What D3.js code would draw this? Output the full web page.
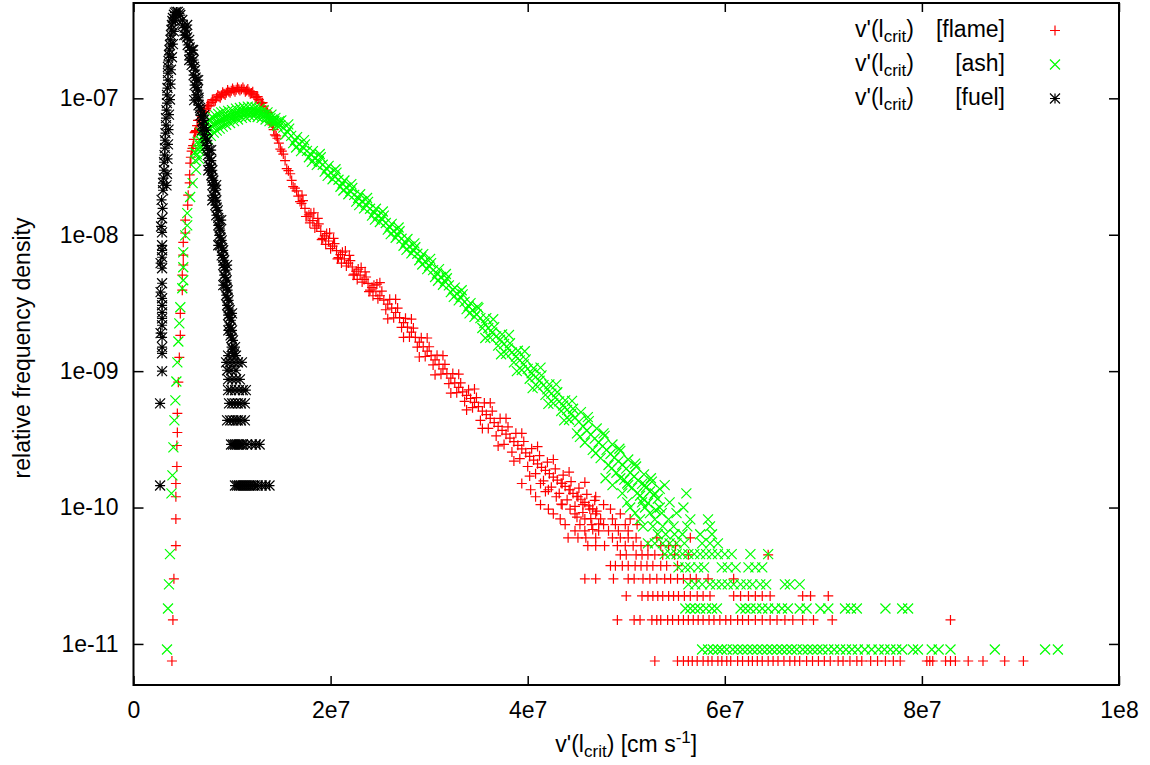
<!DOCTYPE html>
<html>
<head>
<meta charset="utf-8">
<script src="https://cdn.jsdelivr.net/npm/d3@7"></script>
<style>
  body { margin: 0; background: #fff; }
  svg { display: block; font-family: "Liberation Sans", Arial, sans-serif; }
</style>
</head>
<body>
<script>
// x values are v'(l_crit) in units of 1e6 cm/s, y values are relative frequency density
var xTicks = [0, 20, 40, 60, 80, 100];
var xTickLabels = ["0", "2e7", "4e7", "6e7", "8e7", "1e8"];
var yTicks = [1e-11, 1e-10, 1e-9, 1e-8, 1e-7];
var yTickLabels = ["1e-11", "1e-10", "1e-09", "1e-08", "1e-07"];

// ---- flame (red +) ----
var flameFlank = [[3.9,7.5e-12],[4.0,1.5e-11],[4.1,3.0e-11],[4.3,5.25e-11],[4.3,8.25e-11],[4.3,1.2e-10],[4.3,1.5e-10],
  [4.4,2.0e-10],[4.4,2.85e-10],[4.45,3.55e-10],[4.45,4.9e-10],[4.55,8.3e-10],[4.65,1.26e-9],[4.75,1.83e-9],[4.75,2.65e-9],
  [4.95,3.92e-9],[4.95,5.05e-9],[5.05,6.0e-9],[5.05,7.1e-9],[5.05,8.8e-9],[5.25,1.03e-8],[5.25,1.28e-8],[5.5,1.65e-8],
  [5.55,1.95e-8],[5.7,2.4e-8],[5.7,2.75e-8]];
var flamePeak = [[5.75,3.35e-8],[5.9,4.1e-8],[6.05,4.5e-8],[6.2,5.6e-8],[6.35,5.8e-8],[6.55,6.9e-8],[6.75,6.9e-8],[7.0,8.0e-8],
  [7.25,7.9e-8],[7.5,8.9e-8],[7.75,8.8e-8],[8.0,9.8e-8],[8.3,9.6e-8],[8.55,1.06e-7],[8.8,1.01e-7],[9.05,1.11e-7],[9.3,1.06e-7],
  [9.55,1.15e-7],[9.8,1.1e-7],[10.05,1.18e-7],[10.3,1.12e-7],[10.55,1.2e-7],[10.8,1.14e-7],[11.1,1.2e-7],[11.35,1.12e-7],
  [11.6,1.17e-7],[11.85,1.08e-7],[12.1,1.12e-7],[12.35,1.01e-7],[12.6,1.03e-7],[12.85,9.3e-8],[13.1,9.3e-8],[13.35,8.2e-8],
  [13.6,7.9e-8],[13.85,6.7e-8],[14.1,6.4e-8],[14.35,5.4e-8],[14.6,5.1e-8],[14.9,4.25e-8],[15.2,3.9e-8],[15.55,3.05e-8],
  [15.9,2.8e-8],[16.2,2.25e-8],[16.55,2.1e-8],[16.9,1.75e-8]];
var flamePeakMid = [[5.82,3.7e-8],[5.98,4.3e-8],[6.12,5.0e-8],[6.28,5.7e-8],[6.45,6.3e-8],[6.65,6.9e-8],[6.88,7.45e-8],
  [7.12,7.95e-8],[7.38,8.4e-8],[7.62,8.85e-8],[7.88,9.3e-8],[8.15,9.7e-8],[8.42,1.01e-7],[8.68,1.03e-7],[8.92,1.055e-7],
  [9.18,1.08e-7],[9.42,1.1e-7],[9.68,1.12e-7],[9.92,1.135e-7],[10.18,1.145e-7],[10.42,1.155e-7],[10.68,1.165e-7],
  [10.95,1.165e-7],[11.22,1.16e-7],[11.48,1.14e-7],[11.72,1.12e-7],[11.98,1.095e-7],[12.22,1.06e-7],[12.48,1.02e-7],
  [12.72,9.8e-8],[12.98,9.2e-8],[13.22,8.75e-8],[13.48,8.1e-8],[13.72,7.35e-8],[13.98,6.6e-8],[14.22,5.9e-8],[14.48,5.3e-8],
  [14.75,4.7e-8],[15.05,4.1e-8],[15.38,3.5e-8],[15.72,2.95e-8],[16.05,2.5e-8],[16.38,2.2e-8],[16.72,1.92e-8],[17.05,1.7e-8]];
var flameDecline = [[17.2,1.78e-8],[17.6,1.36e-8],[18.0,1.44e-8],[18.4,1.12e-8],[18.8,1.2e-8],[19.2,9.4e-9],[19.6,1.02e-8],
  [20.0,7.9e-9],[20.4,8.6e-9],[20.8,6.8e-9],[21.2,7.45e-9],[21.6,5.9e-9],[22.0,6.45e-9],[22.4,5.15e-9],[22.8,5.6e-9],
  [23.2,4.5e-9],[23.6,4.9e-9],[24.0,3.93e-9],[24.4,4.27e-9],[24.8,3.4e-9],[25.2,3.86e-9],[25.6,2.82e-9],[26.0,3.36e-9],
  [26.4,2.46e-9],[26.8,2.9e-9],[27.2,2.09e-9],[27.6,2.44e-9],[28.0,1.78e-9],[28.4,2.07e-9],[28.8,1.5e-9],[29.2,1.76e-9],
  [29.6,1.28e-9],[30.0,1.51e-9],[30.4,1.11e-9],[30.8,1.31e-9],[31.2,9.5e-10],[31.6,1.12e-9],[32.0,8.1e-10],[32.4,9.6e-10],
  [32.8,6.95e-10],[33.2,8.2e-10],[33.6,6.0e-10],[34.0,7.3e-10],[34.4,5.4e-10],[34.8,6.4e-10],[35.2,4.35e-10],[35.6,5.85e-10],
  [36.0,3.8e-10],[36.4,5.1e-10],[36.8,3.35e-10],[37.2,4.5e-10],[37.6,2.9e-10],[38.0,3.9e-10],[38.4,2.55e-10],[38.8,3.5e-10],
  [39.2,2.28e-10],[39.6,3.05e-10],[40.0,2.0e-10],[40.4,2.7e-10],[40.8,1.77e-10],[41.2,2.4e-10],[41.6,1.57e-10],[42.0,2.15e-10],
  [42.4,1.41e-10],[42.8,1.92e-10],[43.2,1.27e-10],[43.6,1.73e-10],[44.0,1.14e-10],[44.4,1.55e-10],[44.8,1.02e-10],
  [45.2,1.39e-10],[45.6,9.2e-11],[46.0,1.25e-10],[46.4,8.3e-11],[46.8,1.13e-10],[47.2,7.6e-11]];
var flameDeclineMid = [[17.4,1.56e-8],[17.8,1.4e-8],[18.2,1.27e-8],[18.6,1.16e-8],[19.0,1.06e-8],[19.4,9.8e-9],[19.8,9.0e-9],
  [20.2,8.25e-9],[20.6,7.65e-9],[21.0,7.15e-9],[21.4,6.65e-9],[21.8,6.2e-9],[22.2,5.8e-9],[22.6,5.4e-9],[23.0,5.05e-9],
  [23.4,4.7e-9],[23.8,4.4e-9],[24.2,4.1e-9],[24.6,3.82e-9],[25.0,3.57e-9],[25.4,3.32e-9],[25.8,3.1e-9],[26.2,2.9e-9],
  [26.6,2.69e-9],[27.0,2.47e-9],[27.4,2.27e-9],[27.8,2.1e-9],[28.2,1.93e-9],[28.6,1.77e-9],[29.0,1.63e-9],[29.4,1.51e-9],
  [29.8,1.4e-9],[30.2,1.3e-9],[30.6,1.21e-9],[31.0,1.12e-9],[31.4,1.04e-9],[31.8,9.6e-10],[32.2,8.9e-10],[32.6,8.2e-10],
  [33.0,7.6e-10],[33.4,7.05e-10],[33.8,6.65e-10],[34.2,6.3e-10],[34.6,5.9e-10],[35.0,5.5e-10],[35.4,5.1e-10],[35.8,4.8e-10],
  [36.2,4.5e-10],[36.6,4.2e-10],[37.0,3.93e-10],[37.4,3.68e-10],[37.8,3.45e-10],[38.2,3.23e-10],[38.6,3.04e-10],
  [39.0,2.86e-10],[39.4,2.69e-10],[39.8,2.52e-10],[40.2,2.37e-10],[40.6,2.23e-10],[41.0,2.09e-10],[41.4,1.97e-10],
  [41.8,1.87e-10],[42.2,1.77e-10],[42.6,1.67e-10],[43.0,1.59e-10],[43.4,1.51e-10],[43.8,1.43e-10],[44.2,1.35e-10],
  [44.6,1.27e-10],[45.0,1.21e-10],[45.4,1.15e-10],[45.8,1.09e-10],[46.2,1.03e-10],[46.6,9.8e-11],[47.0,9.4e-11]];
var flameDeclineOuter = [[17.1,1.95e-8],[17.5,1.36e-8],[17.9,1.22e-8],[18.3,1.45e-8],[18.7,1.32e-8],[19.1,9.2e-9],
  [19.5,8.5e-9],[19.9,1.03e-8],[20.3,9.4e-9],[20.7,6.65e-9],[21.1,6.2e-9],[21.5,7.6e-9],[21.9,7.05e-9],[22.3,5.05e-9],
  [22.7,4.7e-9],[23.1,5.75e-9],[23.5,5.35e-9],[23.9,3.83e-9],[24.3,3.57e-9],[24.7,4.35e-9],
  [25.0,4.45e-9],[25.8,2.42e-9],[26.6,3.36e-9],[27.4,1.77e-9],[28.2,2.41e-9],[29.0,1.27e-9],
  [29.8,1.75e-9],[30.6,9.4e-10],[31.4,1.3e-9],[32.2,6.9e-10],[33.0,9.5e-10],[33.8,5.2e-10],[34.6,7.4e-10],[35.4,3.8e-10],
  [36.2,5.85e-10],[37.0,2.83e-10],[37.8,4.5e-10],[38.6,2.19e-10],[39.4,3.5e-10],[40.2,1.7e-10],[41.0,2.8e-10],[41.8,1.31e-10],
  [42.6,2.25e-10],[43.4,1.06e-10],[44.2,1.82e-10],[45.0,8.5e-11],[45.8,1.53e-10],[46.6,6.9e-11]];
// low-count rows: [density, [v, ...]]
var flameLevels = [
  [7.5e-12,[52.9,55.2,55.8,56.3,56.7,57.2,57.8,58.3,58.7,59.3,59.7,60.2,60.6,61.3,61.8,62.4,62.8,63.3,63.8,64.4,64.9,65.4,66.0,
    66.6,67.1,67.6,68.3,68.9,69.5,70.1,70.7,71.5,72.0,72.7,73.4,73.9,74.8,75.5,76.3,77.1,77.8,80.5,80.8,81.1,82.4,82.9,83.4,
    84.7,86.2,88.4,90.3]],
  [1.5e-11,[49.1,50.8,51.4,52.6,53.1,53.5,54.2,54.7,55.3,55.8,56.3,56.8,57.3,57.8,58.4,58.9,59.5,60.1,60.6,61.3,61.8,62.4,
    63.1,63.8,64.6,65.3,66.1,66.9,67.9,69.0,70.9,82.9]],
  [2.25e-11,[50.0,51.6,52.2,52.7,53.2,53.7,54.3,54.8,55.3,55.9,56.5,57.2,57.8,58.5,60.9,61.6,62.4,63.1,63.8,64.6,67.9,68.7,70.5]],
  [3.0e-11,[45.8,46.9,48.7,50.2,50.8,51.7,52.4,53.1,53.9,54.5,55.2,55.8,56.5,57.1,58.3,60.9]],
  [3.75e-11,[48.4,48.9,49.6,50.2,50.9,51.5,52.1,52.7,53.5,54.1,55.2]],
  [4.5e-11,[49.4,50.0,51.0,51.6,52.2,52.9,53.7,54.9,56.3,64.4]],
  [5.25e-11,[46.1,46.9,47.8,49.1,49.9,50.7,51.5,52.2,53.5,54.3,55.0]],
  [6.0e-11,[44.1,45.1,45.9,46.9,48.6,49.4,50.2,51.0,53.1,56.5]],
  [6.75e-11,[44.8,45.8,47.2,48.2,49.2,50.2]],
  [7.5e-11,[43.8,45.3,46.5,47.7,48.9,49.9,51.1]],
  [8.25e-11,[43.3,45.8,47.4,48.6,50.4]],
  [9.0e-11,[42.6,44.8,46.9,49.4]],
  [9.75e-11,[42.1,44.3,46.3,48.4]],
  [1.05e-10,[41.3,43.5,45.6,47.7]],
  [1.2e-10,[40.8,42.9,45.1,46.9]],
  [1.35e-10,[40.3,42.1,44.3]],
  [1.5e-10,[39.4,41.3,43.5]]
];

// ---- ash (green x) ----
var ashFlank = [[3.4,9.1e-12],[3.5,1.82e-11],[3.6,2.73e-11],[3.7,4.55e-11],[3.85,1.27e-10],[3.95,1.72e-10],[4.05,2.76e-10],
  [4.15,4.35e-10],[4.25,6.1e-10],[4.35,8.4e-10],[4.45,1.16e-9],[4.55,1.65e-9],[4.65,2.24e-9],[4.75,2.94e-9],[4.95,4.05e-9],
  [5.05,4.64e-9],[5.05,5.78e-9],[5.05,7.43e-9],[5.25,9.9e-9],[5.45,1.17e-8],[5.45,1.44e-8],[5.75,1.89e-8],[6.0,2.39e-8]];
var ashPeak = [[6.2,4.0e-8],[6.35,3.0e-8],[6.5,4.8e-8],[6.65,3.6e-8],[6.8,5.6e-8],[6.95,4.2e-8],[7.1,6.2e-8],[7.25,4.7e-8],
  [7.4,6.6e-8],[7.55,5.0e-8],[7.7,7.0e-8],[7.85,5.3e-8],[8.0,7.3e-8],[8.15,5.6e-8],[8.3,7.5e-8],[8.45,5.8e-8],[8.6,7.7e-8],
  [8.75,6.0e-8],[8.9,7.9e-8],[9.05,6.2e-8],[9.2,8.0e-8],[9.4,6.4e-8],[9.6,8.1e-8],[9.8,6.6e-8],[10.0,8.2e-8],[10.2,6.8e-8],
  [10.4,8.4e-8],[10.6,7.0e-8],[10.8,8.5e-8],[11.0,7.2e-8],[11.2,8.6e-8],[11.4,7.3e-8],[11.6,8.7e-8],[11.8,7.4e-8],[12.0,8.7e-8],
  [12.2,7.4e-8],[12.4,8.6e-8],[12.6,7.3e-8],[12.8,8.4e-8],[13.0,7.2e-8],[13.2,8.2e-8],[13.4,7.0e-8],[13.6,7.9e-8],[13.8,6.8e-8],
  [14.0,7.6e-8],[14.2,6.6e-8],[14.4,7.2e-8],[14.6,6.3e-8],[14.8,6.8e-8]];
var ashPeakMid = [[6.28,3.5e-8],[6.42,3.9e-8],[6.58,4.2e-8],[6.72,4.5e-8],[6.88,4.85e-8],[7.02,5.1e-8],[7.18,5.4e-8],
  [7.32,5.6e-8],[7.48,5.8e-8],[7.62,5.95e-8],[7.78,6.1e-8],[7.92,6.25e-8],[8.08,6.4e-8],[8.22,6.5e-8],[8.38,6.6e-8],
  [8.52,6.7e-8],[8.68,6.8e-8],[8.82,6.85e-8],[8.98,6.95e-8],[9.12,7.05e-8],[9.3,7.15e-8],[9.5,7.25e-8],[9.7,7.3e-8],
  [9.9,7.4e-8],[10.1,7.45e-8],[10.3,7.55e-8],[10.5,7.65e-8],[10.7,7.7e-8],[10.9,7.8e-8],[11.1,7.85e-8],[11.3,7.9e-8],
  [11.5,7.95e-8],[11.7,8.0e-8],[11.9,8.0e-8],[12.1,8.0e-8],[12.3,7.95e-8],[12.5,7.9e-8],[12.7,7.85e-8],[12.9,7.75e-8],
  [13.1,7.65e-8],[13.3,7.55e-8],[13.5,7.4e-8],[13.7,7.3e-8],[13.9,7.15e-8],[14.1,7.0e-8],[14.3,6.85e-8],[14.5,6.7e-8],
  [14.7,6.5e-8],[14.9,6.35e-8]];
var ashDecline = [[15.0,6.9e-8],[15.4,5.4e-8],[15.8,6.0e-8],[16.2,4.7e-8],[16.6,5.2e-8],[17.0,4.1e-8],[17.4,4.6e-8],
  [17.8,3.7e-8],[18.2,4.1e-8],[18.6,3.25e-8],[19.0,3.7e-8],[19.4,2.9e-8],[19.8,3.2e-8],[20.2,2.55e-8],[20.6,2.85e-8],
  [21.0,2.25e-8],[21.4,2.5e-8],[21.8,1.98e-8],[22.2,2.2e-8],[22.6,1.75e-8],[23.0,1.98e-8],[23.4,1.56e-8],[23.8,1.74e-8],
  [24.2,1.38e-8],[24.6,1.55e-8],[25.0,1.24e-8],[25.4,1.38e-8],[25.8,1.09e-8],[26.2,1.2e-8],[26.6,9.5e-9],[27.0,1.06e-8],
  [27.4,8.3e-9],[27.8,9.3e-9],[28.2,7.3e-9],[28.6,8.1e-9],[29.0,6.5e-9],[29.4,7.2e-9],[29.8,5.6e-9],[30.2,6.2e-9],[30.6,4.9e-9],
  [31.0,5.6e-9],[31.4,4.3e-9],[31.8,4.8e-9],[32.2,3.8e-9],[32.6,4.1e-9],[33.0,3.3e-9],[33.4,3.65e-9],[33.8,2.85e-9],
  [34.2,3.15e-9],[34.6,2.5e-9],[35.0,2.9e-9],[35.4,2.07e-9],[35.8,2.45e-9],[36.2,1.76e-9],[36.6,2.1e-9],[37.0,1.54e-9],
  [37.4,1.86e-9],[37.8,1.34e-9],[38.2,1.6e-9],[38.6,1.16e-9],[39.0,1.41e-9],[39.4,1.02e-9],[39.8,1.22e-9],[40.2,8.8e-10],
  [40.6,1.05e-9],[41.0,7.7e-10],[41.4,9.3e-10],[41.8,6.7e-10],[42.2,8.0e-10],[42.6,5.8e-10],[43.0,7.0e-10],[43.4,5.1e-10],
  [43.8,6.1e-10],[44.2,4.4e-10],[44.6,5.3e-10],[45.0,3.5e-10],[45.4,5.0e-10],[45.8,3.0e-10],[46.2,4.3e-10],[46.6,2.65e-10],
  [47.0,3.8e-10],[47.4,2.3e-10],[47.8,3.35e-10],[48.2,2.05e-10],[48.6,2.9e-10],[49.0,1.8e-10],[49.4,2.6e-10],[49.8,1.6e-10],
  [50.2,2.25e-10],[50.6,1.4e-10],[51.0,2.0e-10],[51.4,1.22e-10],[51.8,1.75e-10],[52.2,1.08e-10],[52.6,1.55e-10],
  [53.0,9.6e-11],[53.4,1.37e-10]];
var ashDeclineMid = [[15.2,6.1e-8],[15.6,5.7e-8],[16.0,5.3e-8],[16.4,4.93e-8],[16.8,4.62e-8],[17.2,4.37e-8],[17.6,4.12e-8],
  [18.0,3.87e-8],[18.4,3.65e-8],[18.8,3.46e-8],[19.2,3.26e-8],[19.6,3.05e-8],[20.0,2.85e-8],[20.4,2.67e-8],[20.8,2.53e-8],
  [21.2,2.38e-8],[21.6,2.22e-8],[22.0,2.08e-8],[22.4,1.96e-8],[22.8,1.86e-8],[23.2,1.76e-8],[23.6,1.65e-8],[24.0,1.55e-8],
  [24.4,1.46e-8],[24.8,1.38e-8],[25.2,1.31e-8],[25.6,1.22e-8],[26.0,1.14e-8],[26.4,1.06e-8],[26.8,1.0e-8],[27.2,9.35e-9],
  [27.6,8.75e-9],[28.0,8.2e-9],[28.4,7.65e-9],[28.8,7.25e-9],[29.2,6.85e-9],[29.6,6.35e-9],[30.0,5.9e-9],[30.4,5.5e-9],
  [30.8,5.2e-9],[31.2,4.9e-9],[31.6,4.55e-9],[32.0,4.25e-9],[32.4,3.95e-9],[32.8,3.7e-9],[33.2,3.47e-9],[33.6,3.22e-9],
  [34.0,3.0e-9],[34.4,2.8e-9],[34.8,2.62e-9],[35.2,2.45e-9],[35.6,2.25e-9],[36.0,2.07e-9],[36.4,1.92e-9],[36.8,1.8e-9],
  [37.2,1.7e-9],[37.6,1.58e-9],[38.0,1.47e-9],[38.4,1.37e-9],[38.8,1.28e-9],[39.2,1.2e-9],[39.6,1.12e-9],[40.0,1.04e-9],
  [40.4,9.65e-10],[40.8,9.05e-10],[41.2,8.5e-10],[41.6,7.9e-10],[42.0,7.35e-10],[42.4,6.85e-10],[42.8,6.4e-10],[43.2,6.0e-10],
  [43.6,5.6e-10],[44.0,5.2e-10],[44.4,4.85e-10],[44.8,4.55e-10],[45.2,4.25e-10],[45.6,3.95e-10],[46.0,3.67e-10],
  [46.4,3.42e-10],[46.8,3.2e-10],[47.2,3.0e-10],[47.6,2.82e-10],[48.0,2.65e-10],[48.4,2.47e-10],[48.8,2.32e-10],
  [49.2,2.18e-10],[49.6,2.06e-10],[50.0,1.93e-10],[50.4,1.8e-10],[50.8,1.69e-10],[51.2,1.58e-10],[51.6,1.49e-10],
  [52.0,1.4e-10],[52.4,1.31e-10],[52.8,1.23e-10],[53.2,1.16e-10]];
var ashDeclineOuter = [[15.7,6.45e-8],[16.5,4.36e-8],[17.3,4.94e-8],[18.1,3.42e-8],[18.9,3.91e-8],[19.7,2.7e-8],
  [20.5,3.02e-8],[21.3,2.11e-8],[22.1,2.35e-8],[22.9,1.65e-8],[23.7,1.86e-8],[24.5,1.29e-8],[25.3,1.48e-8],[26.1,1.01e-8],
  [26.9,1.13e-8],[27.7,7.75e-9],[28.5,8.65e-9],[29.3,6.05e-9],[30.1,6.65e-9],[30.9,4.6e-9],[31.7,5.15e-9],[32.5,3.5e-9],
  [33.3,3.92e-9],[34.1,2.65e-9],[34.9,2.96e-9],[35.7,1.75e-9],[36.5,2.4e-9],[37.3,1.33e-9],[38.1,1.84e-9],[38.9,1.0e-9],
  [39.7,1.4e-9],[40.5,7.5e-10],[41.3,1.06e-9],[42.1,5.75e-10],[42.9,8.0e-10],[43.7,4.35e-10],[44.5,6.05e-10],[45.3,3.3e-10],
  [46.1,4.6e-10],[46.9,2.5e-10],[47.7,3.5e-10],[48.5,1.93e-10],[49.3,2.7e-10],[50.1,1.5e-10],[50.9,2.1e-10],[51.7,1.16e-10],
  [52.5,1.64e-10]];
var ashLevels = [
  [9.1e-12,[57.7,58.3,58.8,59.3,59.7,60.2,60.8,61.3,61.8,62.3,62.8,63.3,63.8,64.3,64.8,65.3,65.8,66.3,66.8,67.3,67.9,68.4,68.9,
    69.4,69.9,70.5,71.1,71.7,72.3,72.9,73.5,74.2,74.9,75.6,76.2,76.8,77.4,78.0,79.1,79.6,81.0,81.7,82.9,87.4,92.5,93.8]],
  [1.82e-11,[56.0,56.5,57.0,57.5,58.1,58.7,59.2,61.6,62.1,62.6,63.2,63.8,64.4,65.1,65.8,66.4,67.6,68.3,69.7,70.5,72.2,72.8,
    73.4,76.3,78.0,78.6]],
  [2.73e-11,[56.3,57.0,57.7,58.5,59.1,59.7,60.3,60.9,61.6,62.2,62.8,63.6,64.2,66.1,66.6,67.6]],
  [3.64e-11,[55.3,56.0,56.5,57.3,57.9,59.7,60.3,61.1,62.4,63.1,63.8]],
  [4.55e-11,[53.9,54.5,55.1,55.7,56.3,56.9,57.5,58.1,58.7,59.3,60.0,60.7,62.6,64.4]],
  [5.46e-11,[52.2,52.9,53.7,54.4,55.1,55.9,57.7,58.5,59.3]],
  [6.37e-11,[53.2,54.0,54.9,55.7,57.5,58.7]],
  [7.28e-11,[51.7,52.7,53.7,54.8,56.2,58.5]],
  [8.19e-11,[51.4,52.9,54.3,56.5,58.3]],
  [9.1e-11,[50.9,52.4,53.6,55.1]],
  [1.0e-10,[50.4,51.9,53.4,55.8]],
  [1.09e-10,[50.1,51.6,54.4]],
  [1.27e-10,[49.6,51.1,52.9,56.1]],
  [1.46e-10,[48.6,50.2,51.9,53.9]],
  [1.64e-10,[47.9,49.4]]
];

// ---- fuel (black *) ----
var fuelFlank = [[2.7,1.45e-10],[2.7,5.8e-10],[2.9,1.0e-9],[2.9,1.35e-9],[2.9,1.5e-9],[2.9,1.77e-9],[2.9,2.17e-9],[2.9,2.44e-9],
  [2.9,2.7e-9],[2.9,3.04e-9],[2.9,3.42e-9],[2.9,4.41e-9],[2.9,5.68e-9],[2.9,6.84e-9],[2.9,7.69e-9],[2.9,8.37e-9],[2.9,1.04e-8],
  [2.9,1.32e-8],[2.95,1.56e-8],[3.0,2.12e-8],[3.0,2.39e-8],[3.05,2.6e-8],[3.1,2.97e-8],[3.1,3.4e-8],[3.15,3.83e-8],[3.2,4.32e-8],
  [3.2,4.93e-8],[3.25,5.56e-8],[3.3,6.37e-8],[3.3,7.16e-8],[3.35,8.2e-8],[3.4,9.23e-8],[3.4,1.06e-7],[3.45,1.19e-7],[3.5,1.36e-7],
  [3.5,1.53e-7],[3.5,1.7e-7],[3.55,1.88e-7],[3.6,2.08e-7],[3.65,2.26e-7],[3.7,2.46e-7],[3.75,2.68e-7],[3.8,2.91e-7],
  [3.85,3.17e-7],[3.9,3.45e-7],[3.95,3.69e-7],[4.0,3.88e-7],[4.1,4.1e-7]];
var fuelFlankMid = [[2.75,1.9e-9],[2.75,3.8e-9],[2.75,6.2e-9],[2.8,1.15e-8],[2.85,1.8e-8],
  [3.35,2.3e-8],[3.4,2.8e-8],[3.45,3.6e-8],[3.5,4.6e-8],[3.55,5.9e-8],[3.6,7.6e-8],[3.7,9.8e-8],
  [3.75,1.27e-7],[3.8,1.62e-7],[3.9,2.0e-7],[4.0,2.5e-7],[4.1,3.1e-7],[4.25,3.7e-7]];
var fuelPeak = [[4.2,4.25e-7],[4.35,4.3e-7],[4.5,4.3e-7],[4.65,4.2e-7],[4.75,4.08e-7],[4.95,3.75e-7],[5.0,3.45e-7],[5.35,3.17e-7],
  [5.3,2.91e-7],[5.65,2.68e-7],[5.5,2.46e-7],[5.9,2.26e-7],[5.7,2.08e-7],[6.1,1.91e-7],[5.9,1.76e-7],[6.25,1.61e-7],[6.1,1.48e-7],
  [6.4,1.36e-7],[6.2,1.25e-7],[6.5,1.15e-7],[6.35,1.06e-7],[6.6,9.7e-8],[6.6,8.9e-8],[6.8,8.2e-8],[6.8,7.5e-8],[7.1,6.9e-8],
  [7.0,6.4e-8],[7.4,5.85e-8],[7.2,5.4e-8],[7.5,4.93e-8],[7.4,4.5e-8],[7.7,4.17e-8],[7.55,3.83e-8],[7.9,3.5e-8],[7.7,3.23e-8],
  [8.0,2.97e-8],[7.9,2.73e-8],[8.1,2.5e-8],[8.0,2.31e-8],[8.3,2.12e-8],[8.1,1.95e-8],[8.4,1.79e-8],[8.3,1.65e-8],[8.55,1.51e-8],
  [8.4,1.39e-8],[8.7,1.28e-8],[8.6,1.17e-8],[8.8,1.08e-8],[8.7,9.9e-9],[8.95,9.1e-9],[8.8,8.37e-9],[9.1,7.69e-9],[8.95,7.06e-9],
  [9.2,6.5e-9],[9.1,5.98e-9],[9.35,5.5e-9],[9.2,5.05e-9],[9.45,4.64e-9],[9.3,4.27e-9],[9.55,3.92e-9],[9.4,3.6e-9],[9.65,3.3e-9],
  [9.5,3.04e-9],[9.75,2.8e-9],[9.6,2.57e-9],[9.9,2.36e-9],[9.7,2.17e-9],[10.0,1.99e-9],[9.85,1.83e-9],[10.1,1.68e-9],
  [9.95,1.5e-9],[10.2,1.35e-9]];
var fuelPeakMid = [[5.2,3.3e-7],[5.45,2.8e-7],[5.7,2.36e-7],[5.95,1.98e-7],[6.15,1.7e-7],[6.3,1.42e-7],[6.45,1.2e-7],
  [6.6,1.01e-7],[6.75,8.5e-8],[6.95,7.2e-8],[7.15,6.1e-8],[7.3,5.1e-8],[7.5,4.3e-8],[7.7,3.65e-8],[7.85,3.1e-8],[8.0,2.6e-8],
  [8.2,2.2e-8],[8.3,1.87e-8],[8.45,1.58e-8],[8.6,1.33e-8],[8.75,1.12e-8],[8.85,9.5e-9],[9.0,8.0e-9],[9.1,6.8e-9],
  [9.25,5.75e-9],[9.35,4.85e-9],[9.45,4.1e-9],[9.55,3.45e-9],[9.65,2.9e-9],[9.75,2.47e-9],[9.85,2.08e-9],[9.95,1.75e-9],
  [10.05,1.45e-9]];
var fuelPeakOuter = [[5.45,3.45e-7],[5.15,2.91e-7],[6.05,2.26e-7],[5.66,1.91e-7],[6.56,1.36e-7],[6.16,9.7e-8],[7.17,7.54e-8],
  [6.97,5.85e-8],[7.88,4.17e-8],[7.59,2.97e-8],[8.39,2.31e-8],[7.99,1.79e-8],[8.9,1.28e-8],[8.6,8.37e-9],[9.5,5.98e-9],
  [9.11,4.27e-9],[10.0,2.65e-9],[9.62,1.99e-9],[10.3,1.5e-9]];
var fuelLevels = [
  [1.45e-10,[10.3,10.5,10.7,10.9,11.1,11.3,11.5,11.7,11.9,12.1,12.3,12.6,13.0,13.4,13.8]],
  [2.9e-10,[9.9,10.1,10.3,10.5,10.7,10.9,11.1,11.5,12.0,12.4,12.8]],
  [4.35e-10,[9.5,9.8,10.1,10.4,10.6,10.9,11.3]],
  [5.8e-10,[9.7,10.0,10.3,10.6,10.9,11.3]],
  [7.25e-10,[9.6,9.9,10.3,10.7,11.1,11.4]],
  [8.7e-10,[9.6,10.0,10.4,10.8]],
  [1.015e-9,[9.5,9.9,10.4]],
  [1.16e-9,[9.4,9.8,10.2,10.6,11.0]],
  [1.3e-9,[9.6,10.1,10.4]]
];

function gather(parts, levels) {
  var pts = [];
  parts.forEach(function(p) {
    p.forEach(function(d) { pts.push({ v: d[0], f: d[1] }); });
  });
  levels.forEach(function(row) {
    row[1].forEach(function(v) { pts.push({ v: v, f: row[0] }); });
  });
  return pts;
}

var series = [
  { name: "flame", symbol: "+", color: "#ff0000",
    pts: gather([flameFlank, flamePeak, flamePeakMid, flameDecline, flameDeclineMid, flameDeclineOuter], flameLevels) },
  { name: "ash", symbol: "x", color: "#00ff00",
    pts: gather([ashFlank, ashPeak, ashPeakMid, ashDecline, ashDeclineMid, ashDeclineOuter], ashLevels) },
  { name: "fuel", symbol: "*", color: "#000000",
    pts: gather([fuelFlank, fuelFlankMid, fuelPeak, fuelPeakMid, fuelPeakOuter], fuelLevels) }
];

var svgWidth = 1150;
var svgHeight = 765;
var margin = { top: 3, right: 31, bottom: 80, left: 133.5 };
var width = svgWidth - margin.left - margin.right;
var height = svgHeight - margin.top - margin.bottom;

var svg = d3.select("body").append("svg")
  .attr("width", svgWidth)
  .attr("height", svgHeight);

var chart = svg.append("g")
  .attr("transform", `translate(${margin.left}, ${margin.top})`);

var xScale = d3.scaleLinear().domain([0, 100]).range([0, width]);
var yScale = d3.scaleLog().domain([5e-12, 5e-7]).range([height, 0]);

// symbols like gnuplot point types 1, 2, 3
function symbolPath(type, x, y) {
  var s = 5;
  var p = "";
  if (type !== "x") p += `M${x - s},${y}h${2 * s}M${x},${y - s}v${2 * s}`;
  if (type !== "+") p += `M${x - s},${y - s}l${2 * s},${2 * s}M${x - s},${y + s}l${2 * s},${-2 * s}`;
  return p;
}

chart.append("clipPath").attr("id", "plotClip")
  .append("rect").attr("width", width).attr("height", height);

var plot = chart.append("g").attr("clip-path", "url(#plotClip)");

series.forEach(function(s) {
  plot.append("g")
    .attr("fill", "none")
    .attr("stroke", s.color)
    .attr("stroke-width", 1.2)
    .selectAll("path")
    .data(s.pts)
    .enter()
    .append("path")
    .attr("d", d => symbolPath(s.symbol, xScale(d.v), yScale(d.f)));
});

// axes
var bottomAxis = d3.axisBottom(xScale).tickValues(xTicks)
  .tickFormat((d, i) => xTickLabels[i]).tickSizeInner(-9).tickSizeOuter(0).tickPadding(17);
var topAxis = d3.axisTop(xScale).tickValues(xTicks).tickFormat("").tickSizeInner(-9).tickSizeOuter(0);
var leftAxis = d3.axisLeft(yScale).tickValues(yTicks)
  .tickFormat((d, i) => yTickLabels[i]).tickSizeInner(-10).tickSizeOuter(0).tickPadding(15);
var rightAxis = d3.axisRight(yScale).tickValues(yTicks).tickFormat("").tickSizeInner(-10).tickSizeOuter(0);

function styleAxis(g) {
  g.select(".domain").remove();
  g.selectAll(".tick line").attr("stroke", "#000").attr("stroke-width", 1.5);
  g.selectAll(".tick text").attr("fill", "#000").style("font-size", "23px")
    .style("font-family", "'Liberation Sans', Arial, sans-serif");
}

chart.append("g").attr("transform", `translate(0, ${height})`).call(bottomAxis).call(styleAxis);
chart.append("g").call(topAxis).call(styleAxis);
chart.append("g").call(leftAxis).call(styleAxis);
chart.append("g").attr("transform", `translate(${width}, 0)`).call(rightAxis).call(styleAxis);

chart.append("rect")
  .attr("width", width)
  .attr("height", height)
  .attr("fill", "none")
  .attr("stroke", "#000")
  .attr("stroke-width", 2);

// axis titles
svg.append("text")
  .attr("transform", `translate(30, ${margin.top + height / 2 + 4}) rotate(-90)`)
  .attr("text-anchor", "middle")
  .style("font-size", "23px")
  .text("relative frequency density");

var xTitle = svg.append("text")
  .attr("x", margin.left + width / 2)
  .attr("y", 752)
  .attr("text-anchor", "middle")
  .style("font-size", "23px");
xTitle.append("tspan").text("v'(l");
xTitle.append("tspan").style("font-size", "17px").attr("dy", 5).text("crit");
xTitle.append("tspan").attr("dy", -5).text(") [cm s");
xTitle.append("tspan").style("font-size", "17px").attr("dy", -9).text("-1");
xTitle.append("tspan").attr("dy", 9).text("]");

// legend
var legendNames = ["[flame]", "[ash]", "[fuel]"];
var legend = svg.append("g");
series.forEach(function(s, i) {
  var base = 37 + i * 34;
  var t = legend.append("text").attr("x", 855).attr("y", base).style("font-size", "23px");
  t.append("tspan").text("v'(l");
  t.append("tspan").style("font-size", "17px").attr("dy", 5).text("crit");
  t.append("tspan").attr("dy", -5).text(")");
  legend.append("text").attr("x", 1005).attr("y", base).attr("text-anchor", "end")
    .style("font-size", "23px").text(legendNames[i]);
  legend.append("path")
    .attr("d", symbolPath(s.symbol, 1055, base - 6.5))
    .attr("fill", "none")
    .attr("stroke", s.color)
    .attr("stroke-width", 1.2);
});
</script>
</body>
</html>
